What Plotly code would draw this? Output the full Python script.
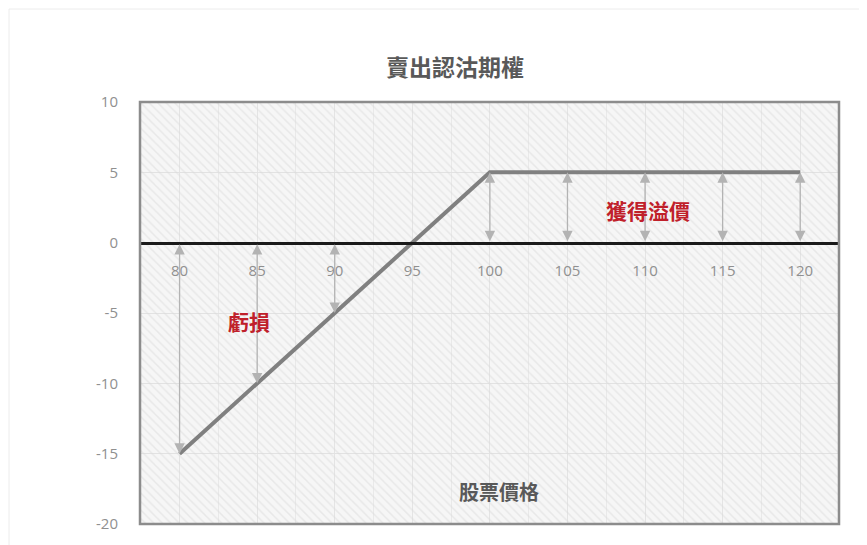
import plotly.graph_objects as go

# ---- data ----
stock_price = [80, 85, 90, 95, 100, 105, 110, 115, 120]
payoff = [-15, -10, -5, 0, 5, 5, 5, 5, 5]
x_ticks = [80, 85, 90, 95, 100, 105, 110, 115, 120]
y_ticks = [10, 5, 0, -5, -10, -15, -20]
title_text = "賣出認沽期權"
x_label = "股票價格"
gain_label = "獲得溢價"
loss_label = "虧損"

X_RANGE = [77.45, 122.5]
Y_RANGE = [-20, 10]

OFF = 8  # page body margin
W, H = 867, 545
ML, MR, MT, MB = 140 - OFF, 28 + OFF, 102 - OFF, 21 + OFF
PW = W - ML - MR
PH = H - MT - MB

fig = go.Figure()

# hatched background
fig.add_trace(go.Scatter(
    x=[X_RANGE[0], X_RANGE[1], X_RANGE[1], X_RANGE[0], X_RANGE[0]],
    y=[Y_RANGE[0], Y_RANGE[0], Y_RANGE[1], Y_RANGE[1], Y_RANGE[0]],
    mode="lines", line=dict(width=0), fill="toself",
    fillcolor="rgba(0,0,0,0)",
    fillpattern=dict(shape="\\", fgcolor="#dadada", bgcolor="rgba(0,0,0,0)",
                     size=6, solidity=0.25, fillmode="overlay"),
    hoverinfo="skip", showlegend=False,
))

# payoff line
fig.add_trace(go.Scatter(
    x=stock_price, y=payoff, mode="lines",
    line=dict(color="#808080", width=4),
    showlegend=False,
))

# double-headed arrows from 0 to payoff
for xv, yv in zip(stock_price, payoff):
    if yv == 0:
        continue
    fig.add_annotation(
        x=xv, y=yv, ax=xv, ay=0, xref="x", yref="y", axref="x", ayref="y",
        text="", showarrow=True, arrowside="end+start", arrowhead=2,
        arrowsize=1.6, arrowwidth=1.3, arrowcolor="#b3b3b3",
        startarrowhead=2, startarrowsize=1.6,
    )

# labels
cjk = "Noto Sans CJK TC"
fig.add_annotation(x=110.2, y=2.3, xref="x", yref="y", text=f"<b>{gain_label}</b>",
                   showarrow=False, font=dict(family=cjk, size=21, color="#c0202a"))
fig.add_annotation(x=84.5, y=-5.6, xref="x", yref="y", text=f"<b>{loss_label}</b>",
                   showarrow=False, font=dict(family=cjk, size=21, color="#c0202a"))
fig.add_annotation(x=100.6, y=-17.7, xref="x", yref="y", text=f"<b>{x_label}</b>",
                   showarrow=False, font=dict(family=cjk, size=20, color="#595959"))
# title
fig.add_annotation(x=(455 - OFF - ML) / PW, y=1 + (MT - (66 - OFF)) / PH,
                   xref="paper", yref="paper", xanchor="center", yanchor="middle",
                   text=f"<b>{title_text}</b>", showarrow=False,
                   font=dict(family=cjk, size=23, color="#595959"))

# plot border
fig.add_shape(type="rect", xref="x domain", yref="y domain", x0=0, x1=1, y0=0, y1=1,
              line=dict(color="#8c8c8c", width=2.5), layer="above")
# outer faint frame at figure edge
fig.add_shape(type="rect", xref="paper", yref="paper",
              x0=(1 - ML) / PW, x1=(W - 1 - ML) / PW,
              y0=-(MB - 1) / PH, y1=1 + (MT - 1) / PH,
              line=dict(color="#ececec", width=1))

zero_pos = (0 - Y_RANGE[0]) / (Y_RANGE[1] - Y_RANGE[0])

fig.update_layout(
    width=W, height=H,
    margin=dict(l=ML, r=MR, t=MT, b=MB),
    paper_bgcolor="white", plot_bgcolor="#f6f6f6",
    showlegend=False,
    xaxis=dict(
        range=X_RANGE, tickvals=x_ticks, ticktext=[str(v) for v in x_ticks],
        anchor="free", position=zero_pos,
        showline=True, linecolor="#1a1a1a", linewidth=2.5,
        ticks="outside", ticklen=14, tickcolor="rgba(0,0,0,0)",
        tickfont=dict(family="Open Sans", size=15, color="#909090"),
        showgrid=True, gridcolor="#e4e4e4", gridwidth=1,
        minor=dict(dtick=2.5, tick0=77.5, showgrid=True, gridcolor="#e9e9e9", gridwidth=1),
        zeroline=False, fixedrange=True,
    ),
    yaxis=dict(
        range=Y_RANGE, tickvals=y_ticks, ticktext=[str(v) for v in y_ticks],
        ticks="outside", ticklen=18, tickcolor="rgba(0,0,0,0)",
        tickfont=dict(family="Open Sans", size=15, color="#909090"),
        showgrid=True, gridcolor="#e2e2e2", gridwidth=1,
        zeroline=False, showline=False, fixedrange=True,
    ),
)

fig.write_html("out.html")
